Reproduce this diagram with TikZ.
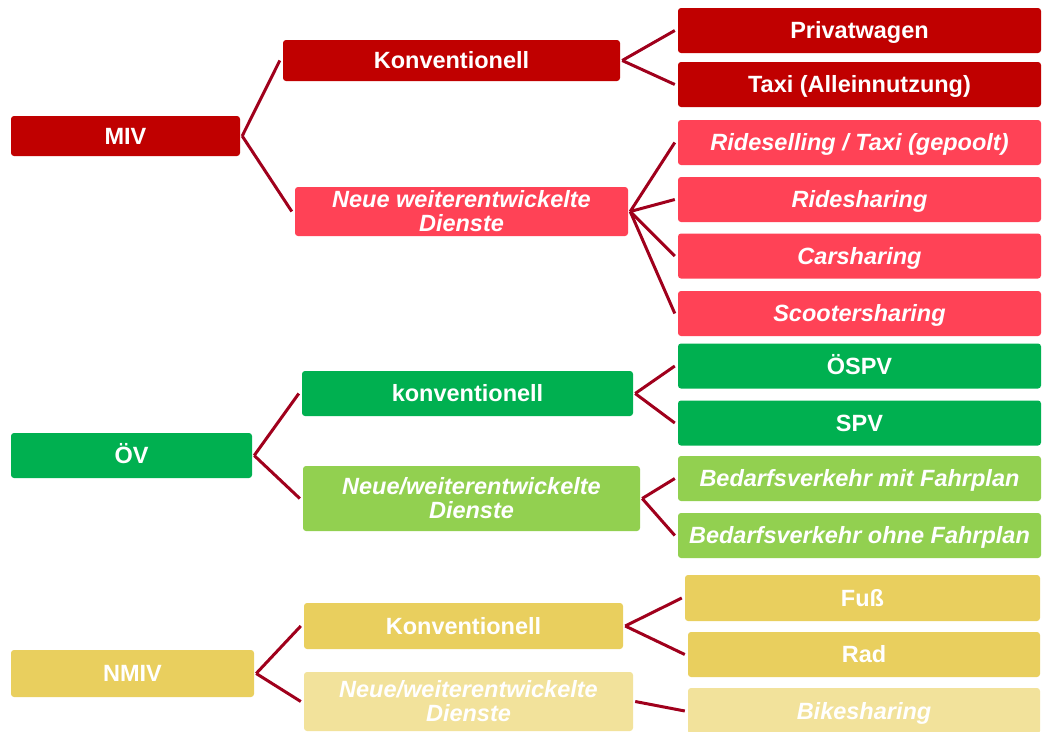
\documentclass[tikz,border=0pt]{standalone}
\usepackage{fontspec}
\setmainfont{Liberation Sans}
\definecolor{mivc}{RGB}{192,0,0}
\definecolor{mivn}{RGB}{255,66,86}
\definecolor{ovc}{RGB}{0,176,80}
\definecolor{ovn}{RGB}{146,208,80}
\definecolor{nmc}{RGB}{233,207,94}
\definecolor{nmn}{RGB}{242,226,155}
\definecolor{connred}{RGB}{160,0,28}
\begin{document}
\begin{tikzpicture}[x=1pt,y=-1pt,
  basebox/.style={rectangle, rounded corners=3pt, inner sep=0pt, align=center, text=white,
    font=\fontsize{23.5}{24}\selectfont\bfseries},
  box/.style={basebox, text height=16.8pt, text depth=0pt},
  newbox/.style={box, font=\fontsize{23.5}{24}\selectfont\bfseries\itshape},
  newtwo/.style={basebox, font=\fontsize{23.5}{24}\selectfont\bfseries\itshape},
  leaf/.style={minimum width=363pt, minimum height=45pt},
  conn/.style={draw=connred, line width=3pt}]
\useasboundingbox (0,0) rectangle (1044,731);

% ---------- MIV ----------
\node[box, fill=mivc, minimum width=229pt, minimum height=40pt] (miv) at (125.5,136) {MIV};
\node[box, fill=mivc, minimum width=337pt, minimum height=41pt] (k1) at (451.5,60.5) {Konventionell};
\node[newtwo, fill=mivn, minimum width=333pt, minimum height=49pt] (n1) at (461.5,211.5) {Neue weiterentwickelte\\Dienste};
\node[box, fill=mivc, leaf] (pw) at (859.5,30.5) {Privatwagen};
\node[box, fill=mivc, leaf] (taxi) at (859.5,84.5) {Taxi (Alleinnutzung)};
\node[newbox, fill=mivn, leaf] (rsell) at (859.5,142.5) {Rideselling / Taxi (gepoolt)};
\node[newbox, fill=mivn, leaf] (rshare) at (859.5,199.5) {Ridesharing};
\node[newbox, fill=mivn, leaf] (car) at (859.5,256) {Carsharing};
\node[newbox, fill=mivn, leaf] (scoot) at (859.5,313.5) {Scootersharing};

% ---------- ÖV ----------
\node[box, fill=ovc, minimum width=241pt, minimum height=45pt] (ov) at (131.5,455.5) {ÖV};
\node[box, fill=ovc, minimum width=331pt, minimum height=45pt] (k2) at (467.5,393.5) {konventionell};
\node[newtwo, fill=ovn, minimum width=337pt, minimum height=65pt] (n2) at (471.5,498.5) {Neue/weiterentwickelte\\Dienste};
\node[box, fill=ovc, leaf] (ospv) at (859.5,366) {ÖSPV};
\node[box, fill=ovc, leaf] (spv) at (859.5,423) {SPV};
\node[newbox, fill=ovn, leaf] (bmit) at (859.5,478.5) {Bedarfsverkehr mit Fahrplan};
\node[newbox, fill=ovn, leaf] (bohne) at (859.5,535.5) {Bedarfsverkehr ohne Fahrplan};

% ---------- NMIV ----------
\node[box, fill=nmc, minimum width=243pt, minimum height=47pt] (nmiv) at (132.5,673.5) {NMIV};
\node[box, fill=nmc, minimum width=319pt, minimum height=46pt] (k3) at (463.5,626) {Konventionell};
\node[newtwo, fill=nmn, minimum width=329pt, minimum height=59pt] (n3) at (468.5,701.5) {Neue/weiterentwickelte\\Dienste};
\node[box, fill=nmc, minimum width=355pt, minimum height=46pt] (fuss) at (862.5,598) {Fuß};
\node[box, fill=nmc, minimum width=352pt, minimum height=45pt] (rad) at (864,654.5) {Rad};
\node[newbox, fill=nmn, minimum width=352pt, minimum height=46pt] (bike) at (864,711) {Bikesharing};

% ---------- connectors ----------
\foreach \p/\c in {miv/k1, miv/n1, k1/pw, k1/taxi, n1/rsell, n1/rshare, n1/car, n1/scoot,
                   ov/k2, ov/n2, k2/ospv, k2/spv, n2/bmit, n2/bohne,
                   nmiv/k3, nmiv/n3, k3/fuss, k3/rad, n3/bike}
  \draw[conn] ([xshift=2pt]\p.east) -- ([xshift=-3pt]\c.west);
\end{tikzpicture}
\end{document}
